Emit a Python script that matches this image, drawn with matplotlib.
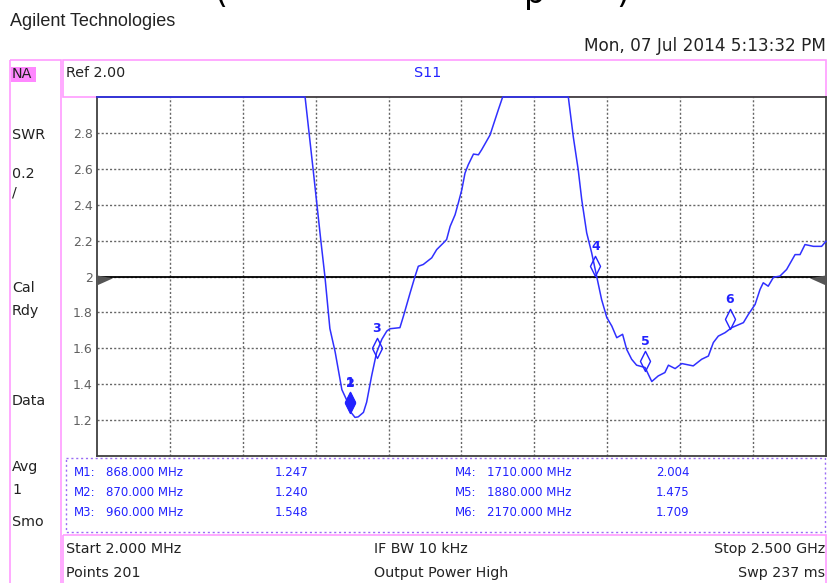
import matplotlib
matplotlib.use('Agg')
import matplotlib.pyplot as plt
import matplotlib.patches as patches
from matplotlib.path import Path
from matplotlib.transforms import blended_transform_factory
import numpy as np

# S11 trace (SWR); values above the top of the screen are pinned at 3.0
freq_mhz = [2, 715, 743, 755, 769, 783, 800, 818, 841, 858,
            869, 886, 897, 915, 926, 943, 960, 978, 995, 1006,
            1040, 1052, 1075, 1092, 1103, 1120, 1149, 1166, 1189, 1200,
            1212, 1229, 1240, 1252, 1263, 1274, 1292, 1309, 1320, 1349,
            1360, 1377, 1392, 1617, 1634, 1651, 1663, 1680, 1697, 1714,
            1731, 1749, 1766, 1783, 1803, 1817, 1834, 1851, 1880, 1903,
            1925, 1948, 1960, 1983, 2006, 2045, 2074, 2097, 2114, 2131,
            2154, 2177, 2217, 2234, 2257, 2274, 2285, 2302, 2320, 2342,
            2365, 2394, 2411, 2428, 2457, 2485, 2500]
swr = [3.0, 3.0, 2.59, 2.41, 2.20, 2.00, 1.71, 1.58, 1.37, 1.31,
       1.25, 1.215, 1.218, 1.243, 1.30, 1.446, 1.576, 1.65, 1.696, 1.709,
       1.715, 1.779, 1.909, 2.002, 2.057, 2.067, 2.104, 2.15, 2.187, 2.206,
       2.279, 2.344, 2.409, 2.483, 2.576, 2.622, 2.682, 2.678, 2.706, 2.789,
       2.844, 2.928, 3.0, 3.0, 2.779, 2.594, 2.428, 2.243, 2.132, 2.002,
       1.872, 1.771, 1.724, 1.659, 1.678, 1.594, 1.539, 1.506, 1.493, 1.415,
       1.446, 1.465, 1.506, 1.487, 1.515, 1.502, 1.539, 1.557, 1.632, 1.668,
       1.687, 1.715, 1.743, 1.789, 1.844, 1.928, 1.965, 1.946, 1.996, 2.002,
       2.039, 2.122, 2.122, 2.178, 2.168, 2.168, 2.196]

marker_ids = [1, 2, 3, 4, 5, 6]
marker_freq = [868.0, 870.0, 960.0, 1710.0, 1880.0, 2170.0]
marker_swr = [1.247, 1.240, 1.548, 2.004, 1.475, 1.709]
marker_filled = [True, True, False, False, False, False]

y_ticks = [1.2, 1.4, 1.6, 1.8, 2.0, 2.2, 2.4, 2.6, 2.8]
y_labels = ['1.2', '1.4', '1.6', '1.8', '2', '2.2', '2.4', '2.6', '2.8']
f_start, f_stop = 2, 2500
y_bottom, y_top = 1.0, 3.0
ref_value = 2.0

side_labels = ['SWR', '0.2', '/', 'Cal', 'Rdy', 'Data', 'Avg', '1', 'Smo']
side_label_y = [135, 174, 193, 288, 311, 401, 467, 490, 522]

W, H = 828, 583
PINK = '#ff9cff'
BLUE = '#2222ff'
FONT = 'DejaVu Sans'

fig = plt.figure(figsize=(W / 100, H / 100), dpi=100)

# background layer in pixel coordinates
bg = fig.add_axes([0, 0, 1, 1])
bg.set_xlim(0, W)
bg.set_ylim(H, 0)
bg.axis('off')

bg.text(10, 22, 'Agilent Technologies', fontsize=13, family='Liberation Sans',
        va='center', ha='left', color='#222222')
# bottom of a cropped-off title
for x, s in [(214, '('), (524, 'p'), (616, ')')]:
    bg.text(x, 3, s, fontsize=24, family=FONT, va='baseline', ha='left', color='black')
bg.text(826, 46, 'Mon, 07 Jul 2014 5:13:32 PM', fontsize=12.2, family=FONT,
        va='center', ha='right', color='#222222')

# pink frames
bg.add_patch(patches.Rectangle((10.5, 60), 50.5, 530, fill=False, ec=PINK, lw=1.2))
bg.add_patch(patches.Rectangle((63, 60), 763, 37, fill=False, ec=PINK, lw=1.2))
bg.add_patch(patches.Rectangle((63, 535), 763, 60, fill=False, ec=PINK, lw=1.2))
bg.add_patch(patches.Rectangle((66.5, 458), 759, 74, fill=False, ec='#9a6cf5',
                               lw=1.0, linestyle=(0, (1.5, 2))))
bg.add_patch(patches.Rectangle((11, 67), 25.5, 15, fc='#ff88ff', ec='none'))
bg.text(12, 74.5, 'NA', fontsize=10.3, family=FONT, va='center', ha='left', color='#222222')

for s, y in zip(side_labels, side_label_y):
    bg.text(12, y, s, fontsize=10.3, family=FONT, va='center', ha='left', color='#222222')

bg.text(66, 73, 'Ref 2.00', fontsize=10.3, family=FONT, va='center', ha='left', color='#222222')
bg.text(414, 73, 'S11', fontsize=10.3, family=FONT, va='center', ha='left', color=BLUE)

# marker table
row_y = [473, 492, 512]
for i, (mid, f, v) in enumerate(zip(marker_ids, marker_freq, marker_swr)):
    col = i // 3
    y = row_y[i % 3]
    x0 = 74 + col * 381
    bg.text(x0, y, f'M{mid}:', fontsize=8.5, family=FONT, va='center', ha='left', color=BLUE)
    bg.text(x0 + 32 - (col * 0), y, f'{f:.3f} MHz', fontsize=8.5, family=FONT,
            va='center', ha='left', color=BLUE)
    bg.text(x0 + 201, y, f'{v:.3f}', fontsize=8.5, family=FONT, va='center', ha='left', color=BLUE)

# bottom status lines
for txt, x, y, ha in [('Start 2.000 MHz', 66, 549, 'left'), ('IF BW 10 kHz', 374, 549, 'left'),
                      ('Stop 2.500 GHz', 825, 549, 'right'), ('Points 201', 66, 573, 'left'),
                      ('Output Power High', 374, 573, 'left'), ('Swp 237 ms', 825, 573, 'right')]:
    bg.text(x, y, txt, fontsize=10.3, family=FONT, va='center', ha=ha, color='#222222')

# main plot
ax = fig.add_axes([97 / W, (H - 456) / H, 729 / W, 359 / H])
ax.set_xlim(f_start, f_stop)
ax.set_ylim(y_bottom, y_top)
ax.set_xticks(np.linspace(f_start, f_stop, 11)[1:-1])
ax.set_xticklabels([])
ax.set_yticks(y_ticks)
ax.set_yticklabels(y_labels, family=FONT)
ax.tick_params(length=0, labelsize=9, labelcolor='#606060', pad=3)
ax.grid(True, color='#666666', linestyle=(0, (1.5, 1.5)), linewidth=1.0)
for sp in ax.spines.values():
    sp.set_color('#404040')
    sp.set_linewidth(1.3)

ax.axhline(ref_value, color='black', lw=1.3, zorder=2.6)
tr = blended_transform_factory(ax.transAxes, ax.transData)
ax.add_patch(patches.Polygon([(0, ref_value + 0.006), (0.022, ref_value - 0.01), (0, ref_value - 0.05)],
                             closed=True, fc='#555555', ec='none', transform=tr, zorder=2.7))
ax.add_patch(patches.Polygon([(1, ref_value + 0.006), (0.978, ref_value - 0.01), (1, ref_value - 0.05)],
                             closed=True, fc='#555555', ec='none', transform=tr, zorder=2.7))

ax.plot(freq_mhz, swr, color='#3030ff', lw=1.1, zorder=3, clip_on=False)

diamond = Path([(0, 0), (5, 10), (0, 20), (-5, 10), (0, 0)],
               [Path.MOVETO, Path.LINETO, Path.LINETO, Path.LINETO, Path.CLOSEPOLY])
for mid, f, v, filled in zip(marker_ids, marker_freq, marker_swr, marker_filled):
    ax.plot([f], [v], marker=diamond, ms=29, mfc=BLUE if filled else 'none',
            mec=BLUE, mew=1.0, linestyle='none', zorder=4)
    ax.annotate(str(mid), (f, v), xytext=(0, 21), textcoords='offset points',
                ha='center', va='center', fontsize=9, fontweight='bold',
                family=FONT, color=BLUE, zorder=5)

fig.savefig('out.png', dpi=100)
